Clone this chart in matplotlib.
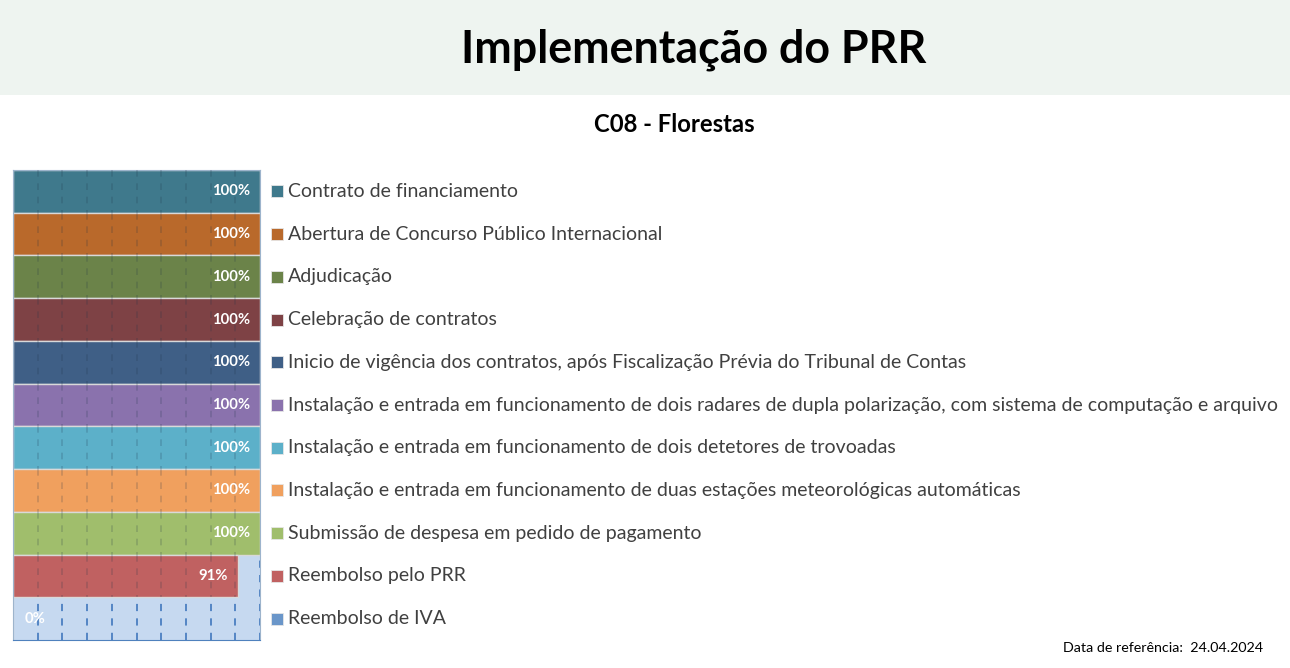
import numpy as np
import matplotlib
matplotlib.use("Agg")
import matplotlib.pyplot as plt
from matplotlib.transforms import blended_transform_factory
from matplotlib.patches import Rectangle

plt.rcParams['font.family'] = ['Lato', 'DejaVu Sans']

title = "Implementação do PRR"
subtitle = "C08 - Florestas"
footnote = "Data de referência:  24.04.2024"

categories = [
    "Contrato de financiamento",
    "Abertura de Concurso Público Internacional",
    "Adjudicação",
    "Celebração de contratos",
    "Inicio de vigência dos contratos, após Fiscalização Prévia do Tribunal de Contas",
    "Instalação e entrada em funcionamento de dois radares de dupla polarização, com sistema de computação e arquivo",
    "Instalação e entrada em funcionamento de dois detetores de trovoadas",
    "Instalação e entrada em funcionamento de duas estações meteorológicas automáticas",
    "Submissão de despesa em pedido de pagamento",
    "Reembolso pelo PRR",
    "Reembolso de IVA",
]
values = [100, 100, 100, 100, 100, 100, 100, 100, 100, 91, 0]
colors = ["#3F798C", "#B9692B", "#6B8349", "#7E4245", "#3F5F86", "#8A72AD",
          "#5CB0C9", "#F0A05E", "#A0BE6C", "#C06161", "#6A96C9"]

W, H = 1290, 668
fig = plt.figure(figsize=(W / 100, H / 100), dpi=100)
fig.patches.append(Rectangle((0, 1 - 95 / H), 1, 95 / H, transform=fig.transFigure,
                             facecolor="#EEF4F0", edgecolor="none", zorder=0))
fig.text(694 / W, 1 - 50 / H, title, ha="center", va="center", fontsize=32.2,
         fontweight="bold", color="black")
fig.text(674 / W, 1 - 124 / H, subtitle, ha="center", va="center", fontsize=17.2,
         fontweight="bold", color="black")
fig.text(1263 / W, 1 - 648 / H, footnote, ha="right", va="center", fontsize=10.3,
         color="black")

ax = fig.add_axes([13 / W, 28 / H, 247 / W, 470 / H])
ax.set_facecolor("#C6D9F0")
n = len(categories)
y = np.arange(n)
ax.barh(y, values, height=1.0, color=colors[:n], edgecolor="#D9D9D9",
        linewidth=1, zorder=2)
ax.set_xlim(0, 100)
ax.set_ylim(n - 0.5, -0.5)
ax.set_xticks(np.arange(0, 101, 10))
ax.set_yticks([])
ax.tick_params(axis="x", length=0, labelbottom=False)
ax.xaxis.grid(True, linestyle=(0, (4, 4)), color="#4A7FC1", linewidth=1.3)
ax.set_axisbelow(True)
# faint dashed grid showing through the bars
inner_ticks = ax.get_xticks()[1:-1]
for i, v in enumerate(values):
    xs = [t for t in inner_ticks if t < v]
    if xs:
        ax.vlines(xs, i - 0.5, i + 0.5, colors="#1E3348", alpha=0.2,
                  linestyles=(0, (4, 4)), linewidth=1.2, zorder=3)
for s in ["left", "top", "right"]:
    ax.spines[s].set_color("#9DB4CC")
ax.spines["bottom"].set_color("#4F81BD")

for i, v in enumerate(values):
    if v > 0:
        ax.annotate(f"{v}%", xy=(v, i), xytext=(-7, 0), textcoords="offset points",
                    ha="right", va="center", color="white", fontweight="bold",
                    fontsize=10.7, zorder=4)
    else:
        ax.annotate(f"{v}%", xy=(0, i), xytext=(8.5, 0), textcoords="offset points",
                    ha="left", va="center", color="white", fontweight="bold",
                    fontsize=10.7, zorder=4)

blend = blended_transform_factory(ax.transAxes, ax.transData)
for i, (c, lab) in enumerate(zip(colors, categories)):
    ax.plot([(277 - 13) / 247], [i], marker="s", markersize=8, color=c,
            markeredgecolor="#E6E6E6", markeredgewidth=0.6,
            transform=blend, clip_on=False, linestyle="none")
    ax.text((288 - 13) / 247, i, lab, transform=blend, ha="left", va="center",
            fontsize=14.0, color="#404040", clip_on=False)

fig.savefig("out.png", dpi=100)
